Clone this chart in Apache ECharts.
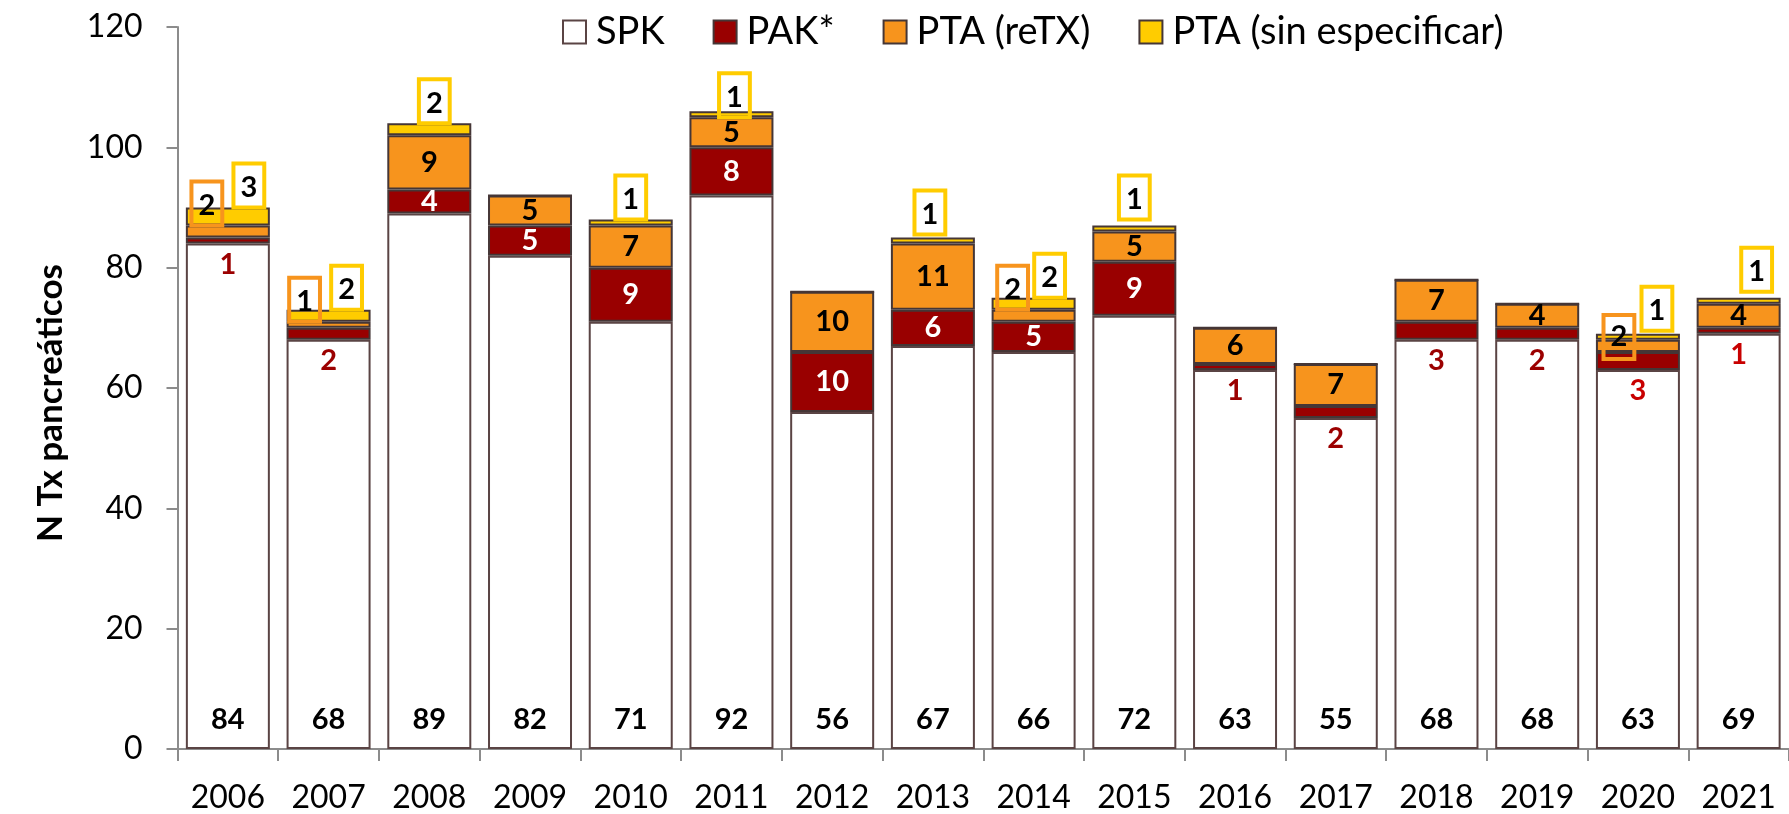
<!DOCTYPE html>
<html>
<head>
<meta charset="utf-8">
<script src="https://cdn.jsdelivr.net/npm/echarts@6/dist/echarts.min.js"></script>
<style>
html,body{margin:0;padding:0;background:#fff;}
#chart{width:1789px;height:814px;}
</style>
</head>
<body>
<div id="chart"></div>
<script>
// ---- data ----
var years = ['2006','2007','2008','2009','2010','2011','2012','2013','2014','2015','2016','2017','2018','2019','2020','2021'];
var spk   = [84, 68, 89, 82, 71, 92, 56, 67, 66, 72, 63, 55, 68, 68, 63, 69];
var pak   = [1, 2, 4, 5, 9, 8, 10, 6, 5, 9, 1, 2, 3, 2, 3, 1];
var retx  = [2, 1, 9, 5, 7, 5, 10, 11, 2, 5, 6, 7, 7, 4, 2, 4];
var sinEsp = [3, 2, 2, 0, 1, 1, 0, 1, 2, 1, 0, 0, 0, 0, 1, 1];
var yTicks = [0, 20, 40, 60, 80, 100, 120];

// ---- label styles (placement of boxed labels, not data) ----
var FONT = 'Lato';
var retxBoxed = { 0: {position:'top', offset:[-21,0], distance:0},
                  1: {position:'top', offset:[-24,0], distance:0},
                  8: {position:'top', offset:[-21,0], distance:0},
                  14:{position:'inside', offset:[-19,-9]} };
var sinBoxed = { 0: {position:'top', offset:[21,0], distance:0},
                 1: {position:'top', offset:[18,0], distance:0},
                 2: {position:'top', offset:[5,0], distance:0},
                 4: {position:'top', offset:[0,0], distance:0},
                 5: {position:'insideBottom', offset:[3,0], distance:0},
                 7: {position:'top', offset:[-3,0], distance:3},
                 8: {position:'top', offset:[16,0], distance:0},
                 9: {position:'top', offset:[0,0], distance:6},
                 14:{position:'top', offset:[19,0], distance:3},
                 15:{position:'top', offset:[18,0], distance:6} };
var pakBrightRed = {14:true, 15:true};

var baseLabel = {fontFamily: FONT, fontWeight: 'bold', fontSize: 29, lineHeight: 30};
function boxStyle(color) {
  return {borderColor: color, borderWidth: 2, padding: [9, 7, 5, 7], backgroundColor: 'transparent', color: '#000'};
}
var BORDER = '#453636';

var pakData = pak.map(function (v, i) {
  var lab;
  if (v >= 4) {
    lab = Object.assign({}, baseLabel, {show: true, position: 'inside', color: '#fff'});
  } else {
    lab = Object.assign({}, baseLabel, {show: true, position: 'bottom', distance: 6,
      color: pakBrightRed[i] ? '#c80000' : '#9b0000'});
  }
  return {value: v, label: lab};
});
var retxData = retx.map(function (v, i) {
  var lab;
  if (retxBoxed[i]) {
    lab = Object.assign({}, baseLabel, boxStyle('#f7941d'), retxBoxed[i], {show: true});
  } else {
    lab = Object.assign({}, baseLabel, {show: true, position: 'inside', color: '#000'});
  }
  return {value: v, label: lab};
});
var sinData = sinEsp.map(function (v, i) {
  var lab;
  if (v > 0 && sinBoxed[i]) {
    lab = Object.assign({}, baseLabel, boxStyle('#ffcc00'), sinBoxed[i], {show: true});
  } else {
    lab = {show: false};
  }
  return {value: v, label: lab};
});

var chart = echarts.init(document.getElementById('chart'), null, {renderer: 'canvas'});
chart.setOption({
  animation: false,
  backgroundColor: '#fff',
  textStyle: {fontFamily: FONT},
  grid: {left: 177.5, right: -12.5, top: 27, bottom: 63, containLabel: false},
  legend: {
    left: 562, top: 13, padding: 0,
    itemWidth: 23, itemHeight: 23, itemGap: 48,
    icon: 'rect',
    textStyle: {fontFamily: FONT, fontSize: 38, color: '#000', lineHeight: 38, padding: [0, 0, 0, 5]},
    data: ['SPK', 'PAK*', 'PTA (reTX)', 'PTA (sin especificar)']
  },
  graphic: [{
    type: 'text', x: 51, y: 403, rotation: Math.PI / 2,
    style: {text: 'N Tx pancreáticos', font: 'bold 35px ' + FONT, fill: '#000',
            textAlign: 'center', textVerticalAlign: 'middle'}
  }],
  xAxis: {
    type: 'category', data: years,
    axisLine: {lineStyle: {color: '#8c8c8c', width: 2}},
    axisTick: {show: true, alignWithLabel: false, length: 12, lineStyle: {color: '#8c8c8c', width: 2}},
    axisLabel: {fontFamily: FONT, fontSize: 32, color: '#000', margin: 33, interval: 0}
  },
  yAxis: {
    type: 'value', min: yTicks[0], max: yTicks[yTicks.length - 1], interval: yTicks[1] - yTicks[0],
    axisLine: {show: true, lineStyle: {color: '#8c8c8c', width: 2}},
    axisTick: {show: true, length: 11, lineStyle: {color: '#8c8c8c', width: 2}},
    splitLine: {show: false},
    axisLabel: {fontFamily: FONT, fontSize: 32, color: '#000', margin: 35}
  },
  series: [
    {name: 'SPK', type: 'bar', stack: 'tx', barCategoryGap: '16.6%', data: spk,
     itemStyle: {color: '#ffffff', borderColor: '#5a4444', borderWidth: 2},
     label: Object.assign({}, baseLabel, {show: true, position: 'insideBottom', distance: 14, color: '#000'})},
    {name: 'PAK*', type: 'bar', stack: 'tx', data: pakData,
     itemStyle: {color: '#990000', borderColor: BORDER, borderWidth: 2}},
    {name: 'PTA (reTX)', type: 'bar', stack: 'tx', data: retxData,
     itemStyle: {color: '#f7941d', borderColor: BORDER, borderWidth: 2}},
    {name: 'PTA (sin especificar)', type: 'bar', stack: 'tx', data: sinData,
     itemStyle: {color: '#ffcc00', borderColor: BORDER, borderWidth: 2}}
  ]
});
</script>
</body>
</html>
